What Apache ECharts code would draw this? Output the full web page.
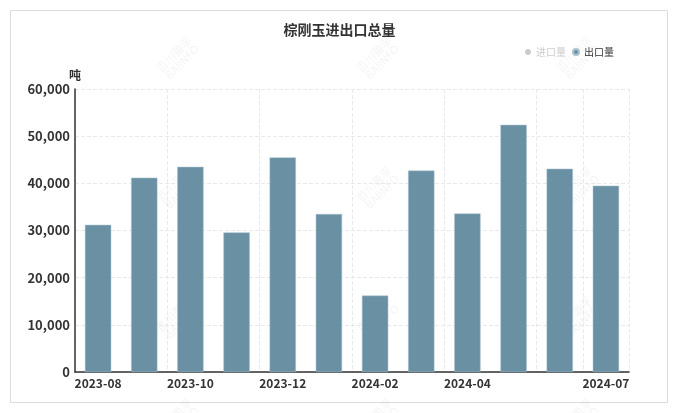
<!DOCTYPE html>
<html><head><meta charset="utf-8">
<script src="https://cdn.jsdelivr.net/npm/echarts@6/dist/echarts.min.js"></script>
<style>html,body{margin:0;padding:0;background:#fff}#c{width:679px;height:413px}</style>
</head><body><div id="c"></div>
<script>
const categories = ['2023-08','2023-09','2023-10','2023-11','2023-12','2024-01','2024-02','2024-03','2024-04','2024-05','2024-06','2024-07'];
const exportValues = [31200, 41200, 43500, 29600, 45500, 33500, 16200, 42700, 33600, 52400, 43100, 39500];
const importValues = [];
const yTicks = [0, 10000, 20000, 30000, 40000, 50000, 60000];
const title = '棕刚玉进出口总量';
const unit = '吨';

const FONT = '"Noto Sans CJK SC", "Noto Sans", sans-serif';
const shownLabels = [0, 2, 4, 6, 8, 11];
const wm = [];
[[178,58],[378,58],[578,58],[178,188],[378,188],[578,188],[178,318],[378,318],[578,318],[178,420],[378,420],[578,420]].forEach(p=>{
  wm.push({type:'text', x:p[0], y:p[1], rotation:Math.PI/4, silent:true, z:0,
    style:{text:'百川盈孚\nBAIINFO', fill:'rgba(0,0,0,0.05)', font:'11px '+FONT, align:'center', verticalAlign:'middle'}});
});
const chart = echarts.init(document.getElementById('c'));
chart.setOption({
  animation:false,
  textStyle:{fontFamily:FONT},
  title:{text:title, left:'center', top:18, textStyle:{fontSize:14, fontWeight:'bold', color:'#333', fontFamily:FONT}},
  legend:{right:60, top:42, itemWidth:6, itemHeight:6, itemGap:6, icon:'circle',
    textStyle:{fontSize:10, color:'#333', fontFamily:FONT},
    inactiveColor:'#ccc',
    data:['进口量','出口量'], selected:{'进口量':false,'出口量':true}},
  graphic:[{type:'rect', shape:{x:10.5,y:10.5,width:657,height:392}, style:{fill:'none', stroke:'#dcdcdc', lineWidth:1}, silent:true, z:-1}].concat(wm),
  grid:{left:75, right:50, top:89, bottom:41},
  xAxis:{type:'category', data:categories,
    axisLine:{lineStyle:{color:'#333', width:1.5}},
    axisTick:{show:false},
    axisLabel:{interval:(i)=>shownLabels.includes(i), color:'#333', fontSize:12, fontWeight:'bold', margin:5, fontFamily:FONT},
    splitLine:{show:true, interval:(i)=>i%2===0||i===10||i===11, lineStyle:{type:'dashed', color:'#e6eaec'}}},
  yAxis:{type:'value', min:yTicks[0], max:yTicks[yTicks.length-1], interval:10000,
    name:unit, nameGap:8, nameTextStyle:{fontSize:12, fontWeight:'bold', color:'#333', align:'center'},
    axisLine:{show:true, lineStyle:{color:'#333', width:1.5}},
    axisTick:{show:false},
    axisLabel:{color:'#333', fontSize:13, fontWeight:'bold', margin:5, formatter:(v)=>v.toLocaleString('en-US'), fontFamily:FONT},
    splitLine:{lineStyle:{type:'dashed', color:'#e6eaec'}}},
  series:[
    {name:'进口量', type:'bar', data:importValues, itemStyle:{color:'#c8c8c8'}},
    {name:'出口量', type:'bar', data:exportValues, barWidth:'57%', barGap:'-100%', itemStyle:{color:'#6a90a4', borderColor:'#a9c3cf', borderWidth:0.5}}
  ]
});
</script></body></html>
